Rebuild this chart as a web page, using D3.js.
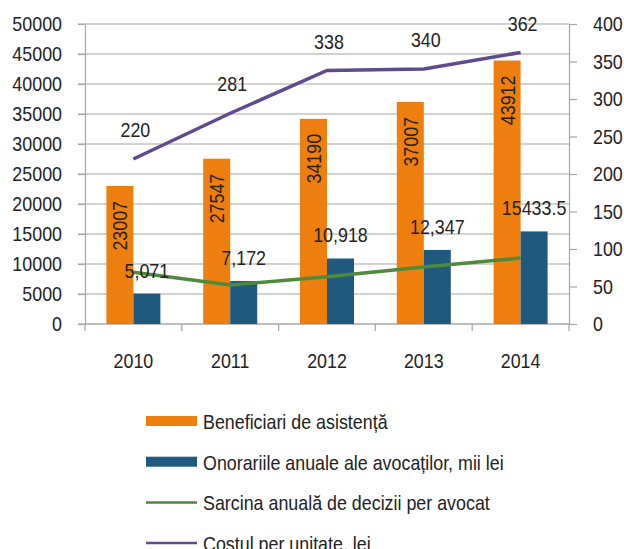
<!DOCTYPE html>
<html>
<head>
<meta charset="utf-8">
<script src="https://cdn.jsdelivr.net/npm/d3@7"></script>
<style>
  body { margin: 0; background: #fff; }
  svg text { font-family: "Liberation Sans", Arial, sans-serif; fill: #222; }
</style>
</head>
<body>
<svg id="chart" width="624" height="549"></svg>
<script>
// Date
const ani = ["2010", "2011", "2012", "2013", "2014"];
const beneficiari = [23007, 27547, 34190, 37007, 43912];
const onorarii = [5071, 7172, 10918, 12347, 15433.5];
const onorariiLabel = ["5,071", "7,172", "10,918", "12,347", "15433.5"];
const sarcina = [69, 52, 63, 76, 88];
const costul = [220, 281, 338, 340, 362];
const leftTicks = [0, 5000, 10000, 15000, 20000, 25000, 30000, 35000, 40000, 45000, 50000];
const rightTicks = [0, 50, 100, 150, 200, 250, 300, 350, 400];
const legendItems = [
  { name: "Beneficiari de asistență", type: "bar", color: "#EE7F0E" },
  { name: "Onorariile anuale ale avocaților, mii lei", type: "bar", color: "#1F5A7E" },
  { name: "Sarcina anuală de decizii per avocat", type: "line", color: "#4F8A3C" },
  { name: "Costul per unitate, lei", type: "line", color: "#5E4A8C" }
];

const svg = d3.select("#chart");
const mLeft = 85, mRight = 569, mTop = 24, mBottom = 324;
const fs = 21;

// Scale
const x = d3.scaleBand().domain(ani).range([mLeft, mRight]);
const yL = d3.scaleLinear().domain([0, 50000]).range([mBottom, mTop]);
const yR = d3.scaleLinear().domain([0, 400]).range([mBottom, mTop]);
const barW = 27;

// Grila
svg.append("g").selectAll("line")
  .data(leftTicks)
  .join("line")
  .attr("x1", mLeft - 7).attr("x2", mRight)
  .attr("y1", d => yL(d)).attr("y2", d => yL(d))
  .attr("stroke", "#a6a6a6").attr("stroke-width", 1.2);

// Axe
const axisStyle = g => {
  g.select(".domain").attr("stroke", "#a6a6a6").attr("stroke-width", 1.2);
  g.selectAll(".tick line").attr("stroke", "#a6a6a6").attr("stroke-width", 1.2);
  g.selectAll("text").attr("font-size", fs).attr("fill", "#222");
};

svg.append("g")
  .attr("transform", `translate(${mLeft},0)`)
  .call(d3.axisLeft(yL).tickValues(leftTicks).tickSize(7).tickSizeOuter(0).tickPadding(16).tickFormat(d3.format("d")))
  .call(axisStyle);

svg.append("g")
  .attr("transform", `translate(${mRight},0)`)
  .call(d3.axisRight(yR).tickValues(rightTicks).tickSize(8).tickSizeOuter(0).tickPadding(16).tickFormat(d3.format("d")))
  .call(axisStyle);

// Axa X: linie + diviziuni intre categorii
const gx = svg.append("g");
gx.append("line")
  .attr("x1", mLeft).attr("x2", mRight).attr("y1", mBottom).attr("y2", mBottom)
  .attr("stroke", "#a6a6a6").attr("stroke-width", 1.2);
gx.selectAll("line.div")
  .data(ani.concat(["end"]))
  .join("line")
  .attr("class", "div")
  .attr("x1", (d, i) => mLeft + i * x.step()).attr("x2", (d, i) => mLeft + i * x.step())
  .attr("y1", mBottom).attr("y2", mBottom + 7)
  .attr("stroke", "#a6a6a6").attr("stroke-width", 1.2);
gx.selectAll("text")
  .data(ani)
  .join("text")
  .attr("x", d => x(d) + x.bandwidth() / 2)
  .attr("y", 368)
  .attr("text-anchor", "middle")
  .attr("font-size", fs)
  .text(d => d);

// Bare
const cx = d => x(d) + x.bandwidth() / 2;
svg.append("g").selectAll("rect")
  .data(ani)
  .join("rect")
  .attr("x", d => cx(d) - barW)
  .attr("y", (d, i) => yL(beneficiari[i]))
  .attr("width", barW)
  .attr("height", (d, i) => mBottom - yL(beneficiari[i]))
  .attr("fill", "#EE7F0E");

svg.append("g").selectAll("rect")
  .data(ani)
  .join("rect")
  .attr("x", d => cx(d))
  .attr("y", (d, i) => yL(onorarii[i]))
  .attr("width", barW)
  .attr("height", (d, i) => mBottom - yL(onorarii[i]))
  .attr("fill", "#1F5A7E");

// Linii
const lineR = d3.line().x(d => cx(d[0])).y(d => yR(d[1]));
svg.append("path")
  .datum(ani.map((a, i) => [a, sarcina[i]]))
  .attr("d", lineR)
  .attr("fill", "none").attr("stroke", "#4F8A3C").attr("stroke-width", 3.5);
svg.append("path")
  .datum(ani.map((a, i) => [a, costul[i]]))
  .attr("d", lineR)
  .attr("fill", "none").attr("stroke", "#5E4A8C").attr("stroke-width", 3.5);

// Etichete
svg.append("g").selectAll("text")
  .data(ani)
  .join("text")
  .attr("transform", (d, i) => `translate(${cx(d) - barW / 2 + 7.5},${yL(beneficiari[i]) + 15}) rotate(-90)`)
  .attr("text-anchor", "end")
  .attr("font-size", fs)
  .text((d, i) => beneficiari[i]);

svg.append("g").selectAll("text")
  .data(ani)
  .join("text")
  .attr("x", d => cx(d) + barW / 2)
  .attr("y", (d, i) => yL(onorarii[i]) - 16)
  .attr("text-anchor", "middle")
  .attr("font-size", fs)
  .text((d, i) => onorariiLabel[i]);

svg.append("g").selectAll("text")
  .data(ani)
  .join("text")
  .attr("x", d => cx(d) + 2)
  .attr("y", (d, i) => yR(costul[i]) - 22)
  .attr("text-anchor", "middle")
  .attr("font-size", fs)
  .text((d, i) => costul[i]);

// Legenda
const leg = svg.append("g").selectAll("g")
  .data(legendItems)
  .join("g")
  .attr("transform", (d, i) => `translate(146,${421 + i * 40.7})`);
leg.filter(d => d.type === "bar").append("rect")
  .attr("x", 0).attr("y", -5).attr("width", 51).attr("height", 10)
  .attr("fill", d => d.color);
leg.filter(d => d.type === "line").append("line")
  .attr("x1", 0).attr("x2", 51).attr("y1", 0).attr("y2", 0)
  .attr("stroke", d => d.color).attr("stroke-width", 2.5);
leg.append("text")
  .attr("x", 57).attr("y", 8)
  .attr("font-size", fs)
  .text(d => d.name);

// fontul din original e ingust: comprimam textul pe orizontala
svg.selectAll("text").each(function () {
  const w = this.getComputedTextLength();
  d3.select(this).attr("textLength", w * 0.85).attr("lengthAdjust", "spacingAndGlyphs");
});
</script>
</body>
</html>
